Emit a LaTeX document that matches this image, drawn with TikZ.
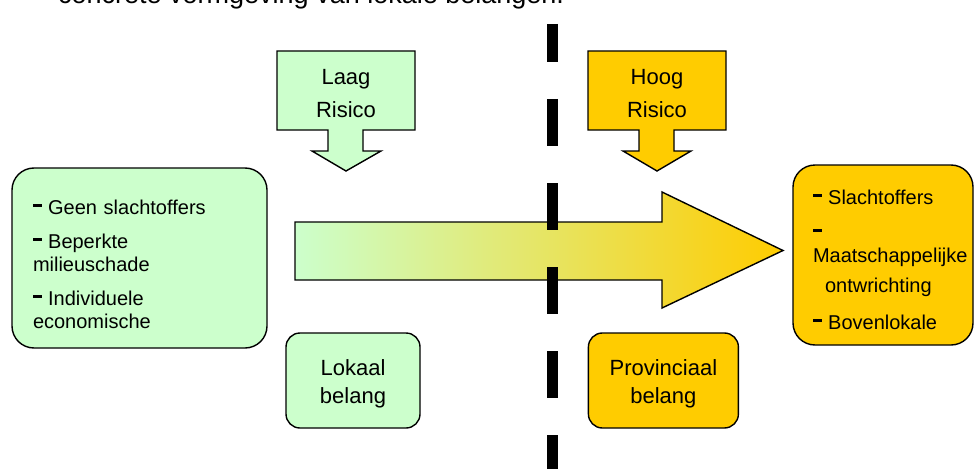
\documentclass[tikz,border=0pt]{standalone}
\usepackage{fontspec}
\setmainfont{Liberation Sans}
\usetikzlibrary{positioning}
\definecolor{lowgreen}{HTML}{CCFFCC}
\definecolor{highgold}{HTML}{FFCC00}
\newcommand{\itemdash}{\rule[8.3pt]{8.5pt}{3pt}}
\tikzset{
  rimline/.style={draw, line width=1.4pt},
  sidebox/.style={rimline, rounded corners=22pt, align=left, inner sep=0pt, font=\fontsize{20}{23}\selectfont},
  belangbox/.style={rimline, rounded corners=14pt, align=center, minimum width=134pt, minimum height=95pt, inner sep=0pt, font=\fontsize{22}{28}\selectfont},
  risklabel/.style={align=center, inner sep=0pt, font=\fontsize{22}{33}\selectfont},
  divider/.style={line width=11pt, dash pattern=on 47pt off 37pt, dash phase=9pt}
}

\begin{document}
\begin{tikzpicture}[x=1pt, y=-1pt]
  \useasboundingbox (0,0) rectangle (976,468);
  \clip (0,0) rectangle (976,468);
  \node[anchor=base west, inner sep=0pt, font=\fontsize{27}{30}\selectfont] (intro) at (58,4) {concrete vormgeving van lokale belangen.};

  % risico pijlen
  \draw[rimline, fill=lowgreen] (277,51) -- (415,51) -- (415,130) -- (363,130) -- (363,151) -- (381,151) -- (346,171) -- (312,151) -- (328,151) -- (328,130) -- (277,130) -- cycle;
  \draw[rimline, fill=highgold] (588,51) -- (726,51) -- (726,130) -- (674,130) -- (674,151) -- (691,151) -- (657,171) -- (623,151) -- (639,151) -- (639,130) -- (588,130) -- cycle;
  \node[risklabel] (laag) at (346,93.6) {Laag\\Risico};
  \node[risklabel] (hoog) at (657,93.6) {Hoog\\Risico};

  % grote pijl
  \draw[rimline, left color=lowgreen, right color=highgold] (295,222) -- (662,222) -- (662,192) -- (783,250.5) -- (662,308) -- (662,280) -- (295,280) -- cycle;

  \node[sidebox, fill=lowgreen, minimum width=255pt, minimum height=180pt, text width=213pt] (harm) at (139.5,258) {\rule{0pt}{28pt}\itemdash{} Geen slachtoffers\\[11pt]
    \itemdash{} Beperkte\\ milieuschade\\[11pt]
    \itemdash{} Individuele\\ economische};
  \node[sidebox, fill=highgold, minimum width=180pt, minimum height=180pt, text width=140pt] (impact) at (883,255) {\rule{0pt}{25pt}\itemdash{} Slachtoffers\\[12pt]
    \itemdash\\ \mbox{Maatschappelijke}\\[7pt]
    \hspace*{12pt}ontwrichting\\[14pt]
    \itemdash{} Bovenlokale};

  \node[belangbox, fill=lowgreen] (lokaal) at (353,380.5) {\rule{0pt}{22pt}Lokaal\\belang};
  \node[belangbox, fill=highgold, minimum width=150pt, right=167pt of lokaal] (provinciaal) {\rule{0pt}{22pt}Provinciaal\\belang};

  % scheidingslijn
  \coordinate (divtop) at (552.5,24);
  \coordinate (divbot) at (552.5,482);
  \draw[divider] (divtop) -- (divbot);
\end{tikzpicture}
\end{document}
